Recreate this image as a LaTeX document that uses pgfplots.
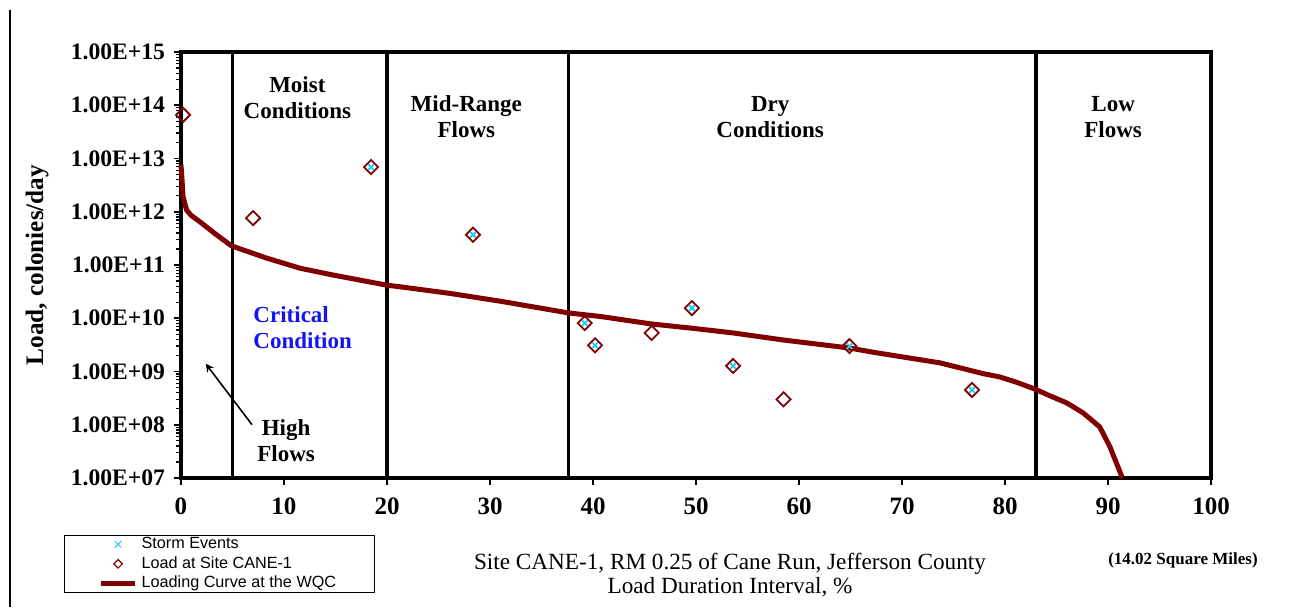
\documentclass[border=0pt]{standalone}
\usepackage{pgfplots}
\pgfplotsset{compat=1.18}
\usepackage{fontspec}
\setmainfont{Liberation Serif}
\newfontfamily\arial{Liberation Sans}
\definecolor{maroonc}{RGB}{128,0,0}
\definecolor{stormc}{RGB}{40,200,240}
\definecolor{critblue}{RGB}{20,20,240}
\begin{document}
\begin{tikzpicture}
\path[use as bounding box] (0,0) rectangle (649pt,303.5pt);
\draw[line width=0.75pt] (5pt,0) -- (5pt,298.5pt);
\begin{axis}[
  at={(90.5pt,64.5pt)}, anchor=south west,
  width=515pt, height=213pt, scale only axis,
  ymode=log, xmin=0, xmax=100, ymin=1e7, ymax=1e15,
  clip=false,
  axis line style={line width=2pt},
  xtick={0,10,20,30,40,50,60,70,80,90,100},
  xticklabels={0,10,20,30,40,50,60,70,80,90,100},
  ytick={1e7,1e8,1e9,1e10,1e11,1e12,1e13,1e14,1e15},
  yticklabels={1.00E+07,1.00E+08,1.00E+09,1.00E+10,1.00E+11,1.00E+12,1.00E+13,1.00E+14,1.00E+15},
  minor ytick={2e7,3e7,4e7,5e7,6e7,7e7,8e7,9e7,
               2e8,3e8,4e8,5e8,6e8,7e8,8e8,9e8,
               2e9,3e9,4e9,5e9,6e9,7e9,8e9,9e9,
               2e10,3e10,4e10,5e10,6e10,7e10,8e10,9e10,
               2e11,3e11,4e11,5e11,6e11,7e11,8e11,9e11,
               2e12,3e12,4e12,5e12,6e12,7e12,8e12,9e12,
               2e13,3e13,4e13,5e13,6e13,7e13,8e13,9e13,
               2e14,3e14,4e14,5e14,6e14,7e14,8e14,9e14},
  tick align=outside, xtick pos=bottom, ytick pos=left,
  major tick length=3.5pt, minor tick length=2.4pt,
  tick style={black, line width=0.8pt},
  minor tick style={black, line width=0.6pt},
  yticklabel style={font=\fontsize{11.8}{13}\selectfont\bfseries, xshift=-1pt},
  xticklabel style={font=\fontsize{12.5}{14}\selectfont\bfseries, yshift=-3pt},
  reverse legend,
  legend style={at={(rel axis cs:-0.1136,-0.271)}, anchor=south west,
    font=\arial\fontsize{8.1}{8.5}\selectfont, draw=black, line width=0.5pt,
    inner xsep=17pt, inner ysep=-1pt, row sep=-1.5pt},
  legend cell align=left,
]
% vertical separators
\addplot[black, line width=1.6pt, forget plot] coordinates {(5,1e7) (5,1e15)};
\addplot[black, line width=1.6pt, forget plot] coordinates {(20,1e7) (20,1e15)};
\addplot[black, line width=1.6pt, forget plot] coordinates {(37.6,1e7) (37.6,1e15)};
\addplot[black, line width=1.6pt, forget plot] coordinates {(83,1e7) (83,1e15)};
% loading curve
\addplot[maroonc, line width=2.5pt, no marks] coordinates {
 (0,7.59e12) (0.1,3.98e12) (0.2,1.91e12) (0.55,1.07e12) (1.0,8.5e11)
 (1.84,6.46e11) (3.5,3.63e11) (4.9,2.29e11) (8.3,1.35e11) (11.55,8.7e10)
 (14.8,6.46e10) (20,4.17e10) (21.3,3.89e10) (26,2.95e10) (31,2.09e10)
 (34.9,1.55e10) (37.6,1.26e10) (40.7,1.08e10) (45.7,7.8e9) (49.6,6.5e9)
 (53.6,5.3e9) (58.5,3.9e9) (64.9,2.76e9) (67.2,2.3e9) (73.7,1.45e9) (77.9,9.1e8)
 (79.5,7.9e8) (81.1,6.3e8) (82.9,4.68e8) (84.4,3.47e8) (86,2.57e8)
 (87.6,1.66e8) (89.2,9.1e7) (90.2,3.8e7) (91.4,1.0e7)
};
\addlegendentry{Loading Curve at the WQC}
% load at site
\addplot[only marks, mark=square, mark size=2.5pt,
  mark options={rotate=45, draw=maroonc, fill=white, line width=0.9pt},
  legend image post style={mark size=1.5pt, mark options={rotate=45, draw=maroonc, fill=white, line width=0.6pt}}] coordinates {
 (0.2,6.6e13) (7.0,7.6e11) (18.45,6.9e12) (28.35,3.7e11) (39.2,8.1e9)
 (40.2,3.1e9) (45.7,5.3e9) (49.6,1.55e10) (53.6,1.27e9) (58.5,3.0e8)
 (64.9,3.0e9) (76.8,4.5e8)
};
\addlegendentry{Load at Site CANE-1}
% storm events
\addplot[only marks, mark=x, mark size=2pt,
  mark options={draw=stormc, line width=0.9pt},
  legend image post style={mark size=2.3pt, mark options={draw=stormc, line width=0.5pt}}] coordinates {
 (18.45,6.9e12) (28.35,3.7e11) (39.2,8.1e9) (40.2,3.1e9) (49.6,1.55e10)
 (53.6,1.27e9) (64.9,3.0e9) (76.8,4.5e8)
};
\addlegendentry{Storm Events}
% region labels
\node[font=\fontsize{11.5}{13}\selectfont\bfseries, align=center] at (axis cs:11.3,1.4e14) {Moist\\Conditions};
\node[font=\fontsize{11.5}{13}\selectfont\bfseries, align=center] at (axis cs:27.7,6e13) {Mid-Range\\Flows};
\node[font=\fontsize{11.5}{13}\selectfont\bfseries, align=center] at (axis cs:57.2,6e13) {Dry\\Conditions};
\node[font=\fontsize{11.5}{13}\selectfont\bfseries, align=center] at (axis cs:90.5,6e13) {Low\\Flows};
\node[font=\fontsize{11.5}{13}\selectfont\bfseries, align=left, anchor=west, inner sep=0pt, text=critblue] at (axis cs:7.0,6.6e9) {Critical\\Condition};
\node[font=\fontsize{11.5}{13}\selectfont\bfseries, align=center] at (axis cs:10.2,5.1e7) {High\\Flows};
\draw[-stealth, line width=0.8pt] (axis cs:6.9,1.0e8) -- (axis cs:2.4,1.4e9);
\end{axis}
\node[rotate=90, font=\fontsize{12.6}{14}\selectfont\bfseries] at (18.5pt,171pt) {Load, colonies/day};
\node[font=\fontsize{11.6}{13}\selectfont] at (365pt,21.5pt) {Site CANE-1, RM 0.25 of Cane Run, Jefferson County};
\node[font=\fontsize{11.6}{13}\selectfont] at (365pt,10pt) {Load Duration Interval, \%};
\node[font=\fontsize{8.5}{9}\selectfont\bfseries] at (591.5pt,23.5pt) {(14.02 Square Miles)};
\end{tikzpicture}
\end{document}
